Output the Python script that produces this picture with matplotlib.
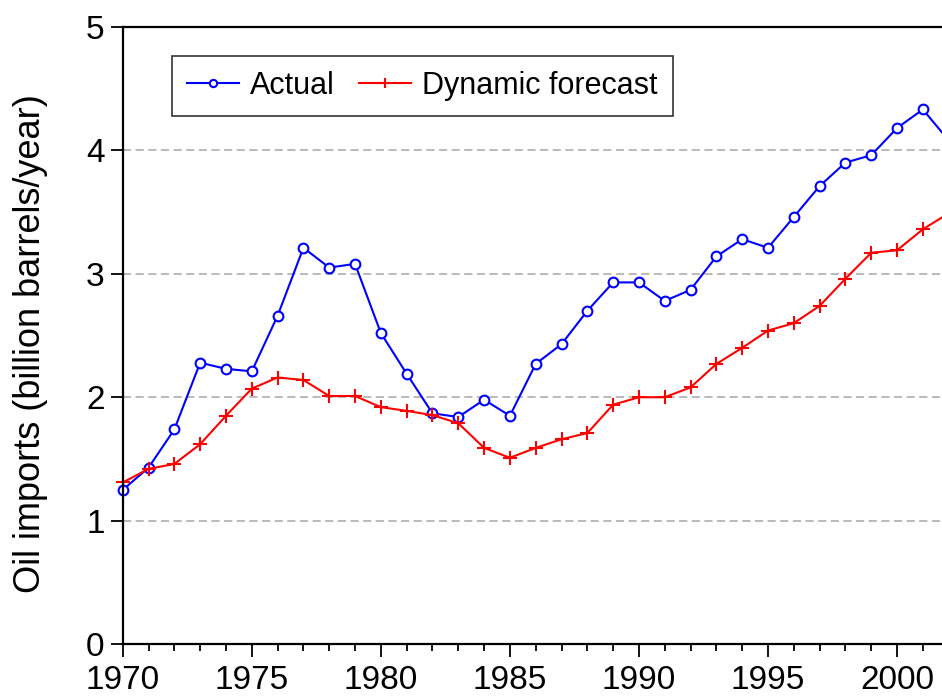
import numpy as np
import matplotlib.pyplot as plt
from matplotlib.ticker import MultipleLocator

plt.rcParams['font.family'] = ['Liberation Sans', 'DejaVu Sans']

# data (billion barrels / year)
years = list(range(1970, 2003))
actual = [1.25, 1.43, 1.74, 2.28, 2.23, 2.21, 2.66, 3.21, 3.05, 3.08,
          2.52, 2.19, 1.87, 1.84, 1.98, 1.85, 2.27, 2.43, 2.70, 2.93,
          2.93, 2.78, 2.87, 3.14, 3.28, 3.21, 3.46, 3.71, 3.90, 3.96,
          4.18, 4.33, 4.08]
forecast = [1.31, 1.42, 1.46, 1.62, 1.85, 2.07, 2.16, 2.14, 2.01, 2.01,
            1.92, 1.89, 1.855, 1.79, 1.59, 1.51, 1.59, 1.66, 1.71, 1.94,
            2.00, 2.00, 2.08, 2.27, 2.40, 2.54, 2.60, 2.74, 2.96, 3.17,
            3.19, 3.36, 3.49]

fig = plt.figure(figsize=(9.42, 6.96), dpi=100)
ax = fig.add_axes([0.1303, 0.0743, 0.8768, 0.8873])

# dashed grid lines
for g in [1, 2, 3, 4]:
    ax.axhline(g, color='#b4b4b4', lw=1.3, ls=(0, (4.5, 2.5)), zorder=0)

ax.plot(years, actual, color='blue', lw=1.5, marker='o', ms=7,
        mfc='white', mec='blue', mew=1.5, label='Actual', clip_on=False)
ax.plot(years, forecast, color='red', lw=1.5, marker='+', ms=10,
        mew=1.5, label='Dynamic forecast', clip_on=False)

ax.set_xlim(1970, 2002)
ax.set_ylim(0, 5)
ax.xaxis.set_major_locator(MultipleLocator(5))
ax.xaxis.set_minor_locator(MultipleLocator(1))
ax.yaxis.set_major_locator(MultipleLocator(1))

ax.tick_params(axis='both', which='major', direction='out', length=9,
               width=1.3, labelsize=24, pad=4)
ax.tick_params(axis='x', which='major', pad=6)
ax.tick_params(axis='x', which='minor', direction='out', length=5, width=1.3)

for s in ['left', 'bottom', 'top']:
    ax.spines[s].set_linewidth(1.6)
ax.spines['right'].set_visible(False)

ax.set_ylabel('Oil imports (billion barrels/year)', fontsize=26)
ax.yaxis.set_label_coords(-0.09, 0.487)

leg = ax.legend(loc='upper left', bbox_to_anchor=(0.0597, 0.953), ncol=2,
                fontsize=22, frameon=True, fancybox=False, edgecolor='black',
                markerscale=0.75, handlelength=1.7, columnspacing=0.8,
                handletextpad=0.35, borderaxespad=0, borderpad=0.5)
leg.get_frame().set_linewidth(1.2)

fig.savefig('out.png', dpi=100)
